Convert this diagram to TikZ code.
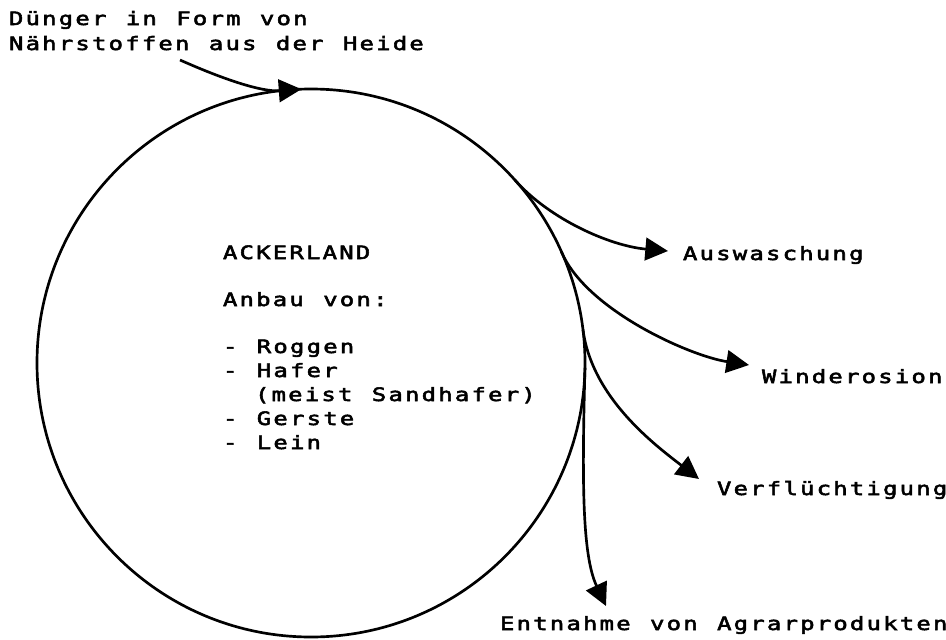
\documentclass[tikz,border=0pt]{standalone}
\usepackage{fontspec}
\usetikzlibrary{arrows.meta}
\newfontfamily\plotfont[FakeStretch=1.3,LetterSpace=12,WordSpace=1.17,FakeBold=3]{DejaVu Sans Mono}

\tikzset{
  lbl/.style={anchor=base west, inner sep=0pt, outer sep=0pt,
    font=\plotfont\fontsize{13.8pt}{17.8pt}\selectfont},
  flow/.style={line width=2pt, -{Triangle[length=17pt,width=17pt]}},
  ring/.style={circle, draw, line width=2pt, minimum size=411pt,
    inner sep=0pt, outer sep=0pt}
}

\begin{document}
\begin{tikzpicture}[x=0.75pt, y=-0.75pt]
\useasboundingbox (0,0) rectangle (946,639);

% the field
\node[ring] (acker) at (311,363) {};

% header text and input
\node[lbl] (dung1) at (9,25) {Dünger in Form von};
\node[lbl] (dung2) at (9,50) {Nährstoffen aus der Heide};
\coordinate (inStart) at (180,60);
\draw[flow] (inStart) .. controls (225,80) and (262,92) .. (acker.92);

% crops inside the circle
\node[lbl] (title) at (223,259) {ACKERLAND};
\node[lbl] (anbau) at (223,306) {Anbau von:};
\node[lbl] (roggen) at (223,353) {- Roggen};
\node[lbl] (hafer) at (223,377) {- Hafer};
\node[lbl] (sandhafer) at (255,401) {(meist Sandhafer)};
\node[lbl] (gerste) at (223,425) {- Gerste};
\node[lbl] (lein) at (223,449) {- Lein};

% losses
\node[lbl] (ausw) at (683,260) {Auswaschung};
\node[lbl] (wind) at (762,383) {Winderosion};
\node[lbl] (verfl) at (717,495) {Verflüchtigung};
\node[lbl] (entn) at (500,630) {Entnahme von Agrarprodukten};

\coordinate (auswTip) at (668,251);
\coordinate (windTip) at (749,365);
\coordinate (verflTip) at (699,479);
\coordinate (entnTip) at (606,606);

\draw[flow] (acker.42) .. controls (549,219) and (610,246) .. (auswTip);
\draw[flow] (acker.24) .. controls (586,310) and (690,356) .. (windTip);
\draw[flow] (acker.7) .. controls (592,398) and (655,445) .. (verflTip);
\draw[flow] (acker.-1) .. controls (582,480) and (582,555) .. (entnTip);
\end{tikzpicture}
\end{document}
